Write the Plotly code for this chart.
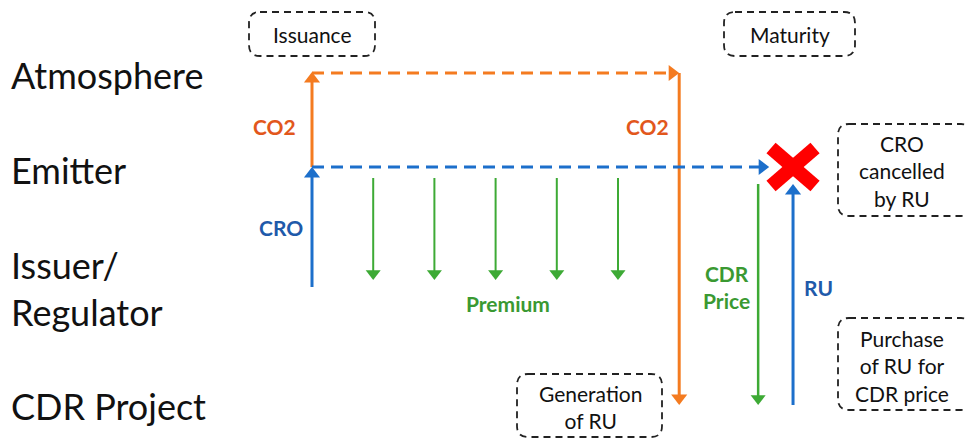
import plotly.graph_objects as go

# ---------------- data ----------------
ROW_LABELS = ["Atmosphere", "Emitter", "Issuer/<br>Regulator", "CDR Project"]
ROW_LEVEL = [73, 167, 285, 405]          # vertical level of each actor (px from top)
ROW_LABEL_Y = [75, 170, 288, 406]

ISSUANCE_T = 0
PREMIUM_T = [1, 2, 3, 4, 5]
MATURITY_T = 6
CRO_END_T = 7.47
CDR_PRICE_T = 7.29
RU_T = 7.86

FLOW_LABELS = ["CO2", "CO2", "CRO", "Premium", "CDR<br>Price", "RU"]
BOX_TEXTS = ["Issuance", "Maturity", "CRO<br>cancelled<br>by RU",
             "Purchase<br>of RU for<br>CDR price", "Generation<br>of RU"]

# ---------------- layout helpers ----------------
W, H = 965, 440
X0, DX = 312, 61.2


def tx(t):
    return X0 + DX * t


ORANGE = "#F47B20"
ORANGE_TXT = "#E2571C"
BLUE = "#1C6FCB"
BLUE_TXT = "#1F5AAA"
GREEN = "#3DAA35"
GREEN_TXT = "#3A9932"
FONT = "Lato"

Y_ATM, Y_EMIT, Y_ISS, Y_CDR = ROW_LEVEL

fig = go.Figure()


def line(xs, ys, color, width, dash=None):
    fig.add_trace(go.Scatter(x=xs, y=ys, mode="lines",
                             line=dict(color=color, width=width, dash=dash),
                             hoverinfo="skip", showlegend=False))


def head(x, y, color, direction, size=13):
    r = size / 2.0
    if direction == "up":
        sym, cx, cy = "triangle-up", x, y + r
    elif direction == "down":
        sym, cx, cy = "triangle-down", x, y - r
    else:
        sym, cx, cy = "triangle-right", x - r, y
    fig.add_trace(go.Scatter(x=[cx], y=[cy], mode="markers",
                             marker=dict(symbol=sym, size=size, color=color,
                                         line=dict(width=0)),
                             hoverinfo="skip", showlegend=False))


def arrow(x0, y0, x1, y1, color, width, direction, dash=None, size=13, gap=6):
    if direction == "up":
        line([x0, x1], [y0, y1 + gap], color, width, dash)
    elif direction == "down":
        line([x0, x1], [y0, y1 - gap], color, width, dash)
    else:
        line([x0, x1 - gap], [y0, y1], color, width, dash)
    head(x1, y1, color, direction, size)


xi = tx(ISSUANCE_T)
xm = tx(MATURITY_T)
xc = tx(CDR_PRICE_T)
xr = tx(RU_T)

# CO2 emitted at issuance (emitter -> atmosphere)
arrow(xi, Y_EMIT, xi, Y_ATM - 1, ORANGE, 3, "up", size=14)
# CO2 stays in atmosphere until maturity (dashed)
arrow(xi, Y_ATM, xm, Y_ATM, ORANGE, 3, "right", dash="12px,7px", size=14, gap=10)
# CO2 removed at maturity (atmosphere -> CDR project)
arrow(xm, Y_ATM, xm, Y_CDR, ORANGE, 3, "down", size=14)
# CRO from issuer to emitter
arrow(xi, Y_ISS + 2, xi, Y_EMIT, BLUE, 3, "up", size=14)
# CRO held until maturity (dashed)
arrow(xi, Y_EMIT, tx(CRO_END_T), Y_EMIT, BLUE, 3, "right", dash="12px,7px",
      size=14, gap=10)
# premiums
for t in PREMIUM_T:
    arrow(tx(t), Y_EMIT + 11, tx(t), Y_ISS - 5, GREEN, 2, "down", size=13)
# CDR price paid by emitter to CDR project
arrow(xc, Y_EMIT + 17, xc, Y_CDR, GREEN, 2.5, "down", size=13)
# RU delivered to emitter
arrow(xr, Y_CDR, xr, Y_EMIT + 17, BLUE, 3, "up", size=14)

# red cross: CRO cancelled
line([xr - 22, xr + 22], [Y_EMIT - 19, Y_EMIT + 19], "#FF0000", 14)
line([xr - 22, xr + 22], [Y_EMIT + 19, Y_EMIT - 19], "#FF0000", 14)

# ---------------- text ----------------
ann = []
for lab, y in zip(ROW_LABELS, ROW_LABEL_Y):
    ann.append(dict(x=9, y=y, text=lab, xanchor="left", yanchor="middle",
                    align="left", font=dict(size=36, color="#111", family=FONT)))

flow_pos = [(xi - 38, 126, ORANGE_TXT), (xm - 32, 126, ORANGE_TXT),
            (xi - 31, 227, BLUE_TXT), (tx(3.2), 303, GREEN_TXT),
            (xc - 32, 287, GREEN_TXT), (xr + 25, 287, BLUE_TXT)]
for lab, (x, y, c) in zip(FLOW_LABELS, flow_pos):
    ann.append(dict(x=x, y=y, text="<b>" + lab + "</b>", xanchor="center",
                    yanchor="middle", align="center",
                    font=dict(size=21, color=c, family=FONT)))

boxes = [(249, 12, 375, 56), (724, 12, 855, 56), (838, 124, 972, 216),
         (838, 318, 972, 410), (517, 374, 662, 437)]
box_text_pos = [(312, 34), (790, 34), (902, 171), (902, 366), (590, 407)]


def rounded(x0, y0, x1, y1, r=11):
    return (f"M{x0 + r},{y0} L{x1 - r},{y0} Q{x1},{y0} {x1},{y0 + r} "
            f"L{x1},{y1 - r} Q{x1},{y1} {x1 - r},{y1} L{x0 + r},{y1} "
            f"Q{x0},{y1} {x0},{y1 - r} L{x0},{y0 + r} Q{x0},{y0} {x0 + r},{y0} Z")


shapes = []
for (x0, y0, x1, y1) in boxes:
    shapes.append(dict(type="path", path=rounded(x0, y0, x1, y1), xref="x", yref="y",
                       line=dict(color="#222", width=1.8, dash="7px,5px"),
                       fillcolor="rgba(0,0,0,0)", layer="below"))
for txt, (x, y) in zip(BOX_TEXTS, box_text_pos):
    ann.append(dict(x=x, y=y, text=txt, xanchor="center", yanchor="middle",
                    align="center", font=dict(size=21, color="#111", family=FONT)))

for a in ann:
    a.update(showarrow=False, xref="x", yref="y")

fig.update_layout(
    width=W, height=H, margin=dict(l=0, r=0, t=0, b=0),
    paper_bgcolor="white", plot_bgcolor="white",
    xaxis=dict(range=[0, W], visible=False, fixedrange=True),
    yaxis=dict(range=[H, 0], visible=False, fixedrange=True),
    annotations=ann, shapes=shapes, showlegend=False,
)

fig.write_html(
    "out.html",
    config={"displayModeBar": False},
    post_script="document.body.style.margin='0';document.body.style.overflow='hidden';",
)
